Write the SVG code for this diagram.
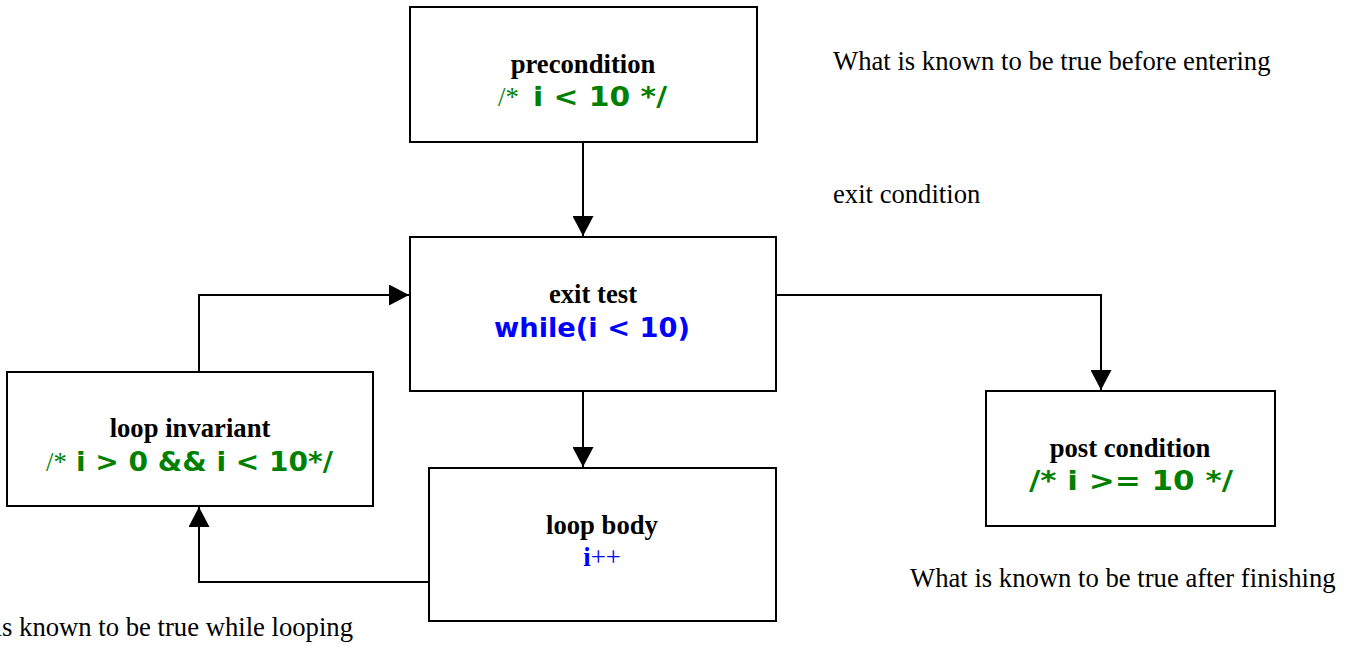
<svg xmlns="http://www.w3.org/2000/svg" width="1351" height="651" viewBox="0 0 1351 651">
<style>
.box{fill:#fff;stroke:#000;stroke-width:2}
.conn{fill:none;stroke:#000;stroke-width:2}
.title{font-family:"Liberation Serif","Times New Roman",serif;font-weight:bold;font-size:26.67px;fill:#000;text-anchor:middle}
.note{font-family:"Liberation Serif","Times New Roman",serif;font-size:26.67px;fill:#000}
.cm{font-family:"Liberation Serif","Times New Roman",serif;font-size:26.67px;fill:#008000}
.code{font-family:"DejaVu Sans","Verdana",sans-serif;font-weight:bold;font-size:26.67px;fill:#008000}
.blue{fill:#0000ff}
</style>
<defs>
<marker id="arr" markerUnits="userSpaceOnUse" markerWidth="21" markerHeight="21" refX="20" refY="10.5" orient="auto" viewBox="0 0 21 21">
<path d="M0,0 L20,10.5 L0,21 z" fill="#000"/>
</marker>
</defs>
<rect width="1351" height="651" fill="#fff"/>
<g id="connectors">
<path class="conn" d="M583,142 V236" marker-end="url(#arr)"/>
<path class="conn" d="M583,391 V467" marker-end="url(#arr)"/>
<path class="conn" d="M776,295 H1101 V390" marker-end="url(#arr)"/>
<path class="conn" d="M429,582 H199 V507" marker-end="url(#arr)"/>
<path class="conn" d="M199,372 V295 H409" marker-end="url(#arr)"/>
</g>
<g id="precondition">
<rect class="box" x="410" y="7" width="347" height="135"/>
<text class="title" x="583" y="73">precondition</text>
<text class="cm" x="498" y="106">/*</text>
<text class="code" x="533" y="106" textLength="134" lengthAdjust="spacingAndGlyphs">i &lt; 10 */</text>
</g>
<g id="exit-test">
<rect class="box" x="410" y="237" width="366" height="154"/>
<text class="title" x="593" y="303">exit test</text>
<text class="code blue" x="494" y="337" textLength="196" lengthAdjust="spacingAndGlyphs">while(i &lt; 10)</text>
</g>
<g id="loop-body">
<rect class="box" x="429" y="468" width="347" height="153"/>
<text class="title" x="602" y="534">loop body</text>
<text class="note blue" x="602" y="566" text-anchor="middle"><tspan font-weight="bold">i</tspan>++</text>
</g>
<g id="loop-invariant">
<rect class="box" x="7" y="372" width="366" height="134"/>
<text class="title" x="190" y="437">loop invariant</text>
<text class="cm" x="46" y="471">/*</text>
<text class="code" x="76" y="471" textLength="257" lengthAdjust="spacingAndGlyphs">i &gt; 0 &amp;&amp; i &lt; 10*/</text>
</g>
<g id="post-condition">
<rect class="box" x="986" y="391" width="289" height="135"/>
<text class="title" x="1130" y="457">post condition</text>
<text class="code" x="1029" y="490" textLength="204" lengthAdjust="spacingAndGlyphs">/* i &gt;= 10 */</text>
</g>
<g id="notes">
<text class="note" x="833" y="70">What is known to be true before entering</text>
<text class="note" x="833" y="203">exit condition</text>
<text class="note" x="910" y="587">What is known to be true after finishing</text>
<text class="note" x="353" y="636" text-anchor="end">is known to be true while looping</text>
</g>
</svg>
